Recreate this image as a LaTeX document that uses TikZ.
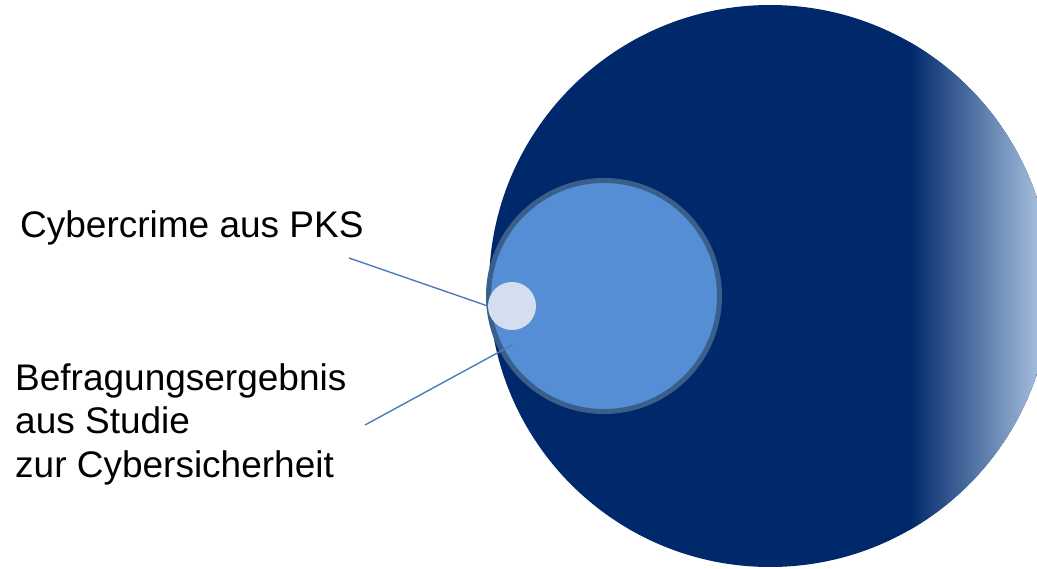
\documentclass[tikz,border=0pt]{standalone}
\usepackage{fontspec}
\setmainfont{Liberation Sans}
\definecolor{navy}{HTML}{00296B}
\definecolor{lightend}{HTML}{B6CDE9}
\definecolor{midfill}{HTML}{558ED5}
\definecolor{midedge}{HTML}{3A5F8D}
\definecolor{smallfill}{HTML}{D4DEEE}
\definecolor{leader}{HTML}{4A7EBB}
\tikzset{
  label text/.style={font=\fontsize{37}{44}\selectfont, text=black, inner sep=0pt, align=left},
  leader line/.style={draw=leader, line width=1.4pt},
}
\begin{document}
\begin{tikzpicture}[x=1pt,y=-1pt]
\useasboundingbox (0,0) rectangle (1037,569);
% big circle with gradient on the right
\fill[navy] (770,286) circle (281);
\begin{scope}
  \clip (770,286) circle (281);
  \shade[left color=navy, right color=lightend] (910,0) rectangle (1052,569);
\end{scope}
% middle circle
\node[circle, draw=midedge, line width=5pt, fill=midfill, minimum size=231pt, inner sep=0pt] (mid) at (604,296) {};
% small circle
\node[circle, fill=smallfill, minimum size=48pt, inner sep=0pt] (small) at (512,306) {};
% labels
\node[label text, anchor=base west] (pks) at (20,238) {Cybercrime aus PKS};
\node[label text, anchor=base west] (studie) at (15,478) {Befragungsergebnis\\aus Studie\\zur Cybersicherheit};
% leader lines
\coordinate (pksend) at (349,258);
\coordinate (studieend) at (365,425);
\coordinate (midpt) at (512,345);
\draw[leader line] (pksend) -- (small.west);
\draw[leader line] (studieend) -- (midpt);
\end{tikzpicture}
\end{document}
